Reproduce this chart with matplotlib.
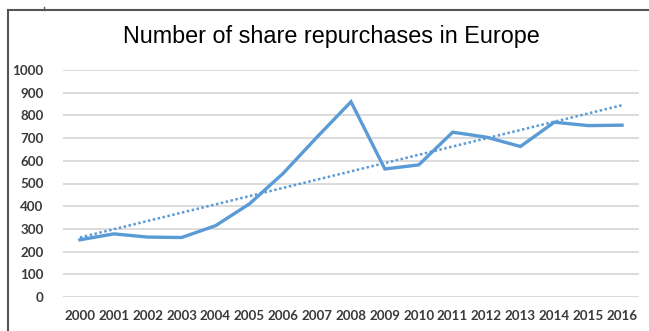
import matplotlib
matplotlib.use("Agg")
import matplotlib.pyplot as plt
from matplotlib.lines import Line2D
import numpy as np

# Number of share repurchases in Europe per year
years = ["2000", "2001", "2002", "2003", "2004", "2005", "2006", "2007", "2008",
         "2009", "2010", "2011", "2012", "2013", "2014", "2015", "2016"]
repurchases = [252, 278, 264, 262, 314, 410, 545, 705, 860,
               564, 582, 726, 704, 663, 770, 755, 757]
y_ticks = [0, 100, 200, 300, 400, 500, 600, 700, 800, 900, 1000]

W, H = 649, 331
fig = plt.figure(figsize=(W / 100, H / 100), dpi=100)
fig.patch.set_facecolor("white")

# axes placed in pixel terms
left, right, top, bottom = 63, 639, 70, 297
ax = fig.add_axes([left / W, 1 - bottom / H, (right - left) / W, (bottom - top) / H])

x = np.arange(len(years))
blue = "#5B9BD5"

# gridlines
ax.set_ylim(0, 1000)
ax.set_xlim(-0.5, len(years) - 0.5)
ax.set_yticks(y_ticks)
ax.yaxis.grid(True, color="#d9d9d9", linewidth=1.3)
ax.set_axisbelow(True)
for s in ax.spines.values():
    s.set_visible(False)
ax.tick_params(length=0)

# data series and linear trend line
ax.plot(x, repurchases, color=blue, linewidth=2.4, solid_joinstyle="miter", clip_on=False, zorder=3)
coef = np.polyfit(x, repurchases, 1)
ax.plot(x, np.polyval(coef, x), color=blue, linewidth=1.8, linestyle=(0, (1, 1)), clip_on=False, zorder=3)

ax.set_xticks(x)
ax.set_xticklabels(years)
for lab in ax.get_xticklabels() + ax.get_yticklabels():
    lab.set_fontfamily("Lato")
    lab.set_fontweight("bold")
    lab.set_fontsize(9.6)
    lab.set_color("#3a3a3a")
ax.tick_params(axis="x", pad=9)
ax.tick_params(axis="y", pad=14)

fig.text(331 / W, 1 - 37 / H, "Number of share repurchases in Europe",
         ha="center", va="center", fontsize=16.8, family="Liberation Sans", color="#000000")

# outer chart frame
fig.add_artist(Line2D([8 / W, 8 / W], [0, 1 - 10 / H], transform=fig.transFigure,
                      color="#555555", linewidth=1.5))
fig.add_artist(Line2D([8 / W, 1], [1 - 10 / H, 1 - 10 / H], transform=fig.transFigure,
                      color="#555555", linewidth=1.5))
fig.add_artist(Line2D([44 / W, 44 / W], [1 - 7 / H, 1 - 10 / H], transform=fig.transFigure,
                      color="#555555", linewidth=1))

fig.savefig("out.png", dpi=100)
